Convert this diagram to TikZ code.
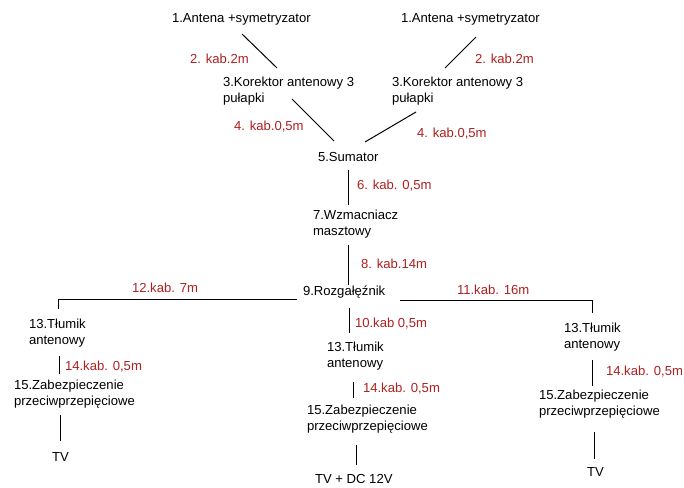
\documentclass[tikz,border=0pt]{standalone}
\usepackage{fontspec}
\setmainfont{Liberation Sans}
\definecolor{cablered}{HTML}{B02020}
\tikzset{
  item/.style={anchor=west,inner sep=0pt,outer sep=0pt,align=left,text=black,yshift=-1.5pt,font=\fontsize{13.1}{16}\selectfont},
  cable/.style={item,text=cablered},
  wire/.style={draw=black,line width=1pt,line cap=butt,line join=miter}
}
\newcommand{\off}[3]{([shift={(#1,{#2-1.5})}]#3.west)}
\begin{document}
\begin{tikzpicture}[x=1pt,y=-1pt]
\path[fill=white,use as bounding box] (0,0) rectangle (684,487);
% components
\node[item] (ant1) at (172,18) {1.Antena +symetryzator};
\node[item] (ant2) at (401,18) {1.Antena +symetryzator};
\node[item] (kor1) at (223,90) {3.Korektor antenowy 3\\pułapki};
\node[item] (kor2) at (392,90) {3.Korektor antenowy 3\\pułapki};
\node[item] (sum) at (318,155) {5.Sumator};
\node[item] (wzm) at (313,222.5) {7.Wzmacniacz\\masztowy};
\node[item] (roz) at (303,291) {9.Rozgałęźnik};
\node[item] (tl) at (29,331.5) {13.Tłumik\\antenowy};
\node[item] (tc) at (327,355) {13.Tłumik\\antenowy};
\node[item] (tr) at (564,335.5) {13.Tłumik\\antenowy};
\node[item] (zl) at (14,393) {15.Zabezpieczenie\\przeciwprzepięciowe};
\node[item] (zc) at (307,417.5) {15.Zabezpieczenie\\przeciwprzepięciowe};
\node[item] (zr) at (539,402.5) {15.Zabezpieczenie\\przeciwprzepięciowe};
\node[item] (tvl) at (52,455) {TV};
\node[item] (tvc) at (315,477) {TV + DC 12V};
\node[item] (tvr) at (587,470) {TV};
% cable labels
\node[cable] (c2a) at (190,57) {2. kab.2m};
\node[cable] (c2b) at (475,57) {2. kab.2m};
\node[cable] (c4a) at (234,125) {4. kab.0,5m};
\node[cable] (c4b) at (417,132) {4. kab.0,5m};
\node[cable] (c6) at (357,184) {6. kab. 0,5m};
\node[cable] (c8) at (361,262) {8. kab.14m};
\node[cable] (c12) at (132,286) {12.kab. 7m};
\node[cable] (c11) at (457,288) {11.kab. 16m};
\node[cable] (c10) at (355,322) {10.kab 0,5m};
\node[cable] (c14a) at (65,365) {14.kab. 0,5m};
\node[cable] (c14b) at (363,387) {14.kab. 0,5m};
\node[cable] (c14c) at (606,370) {14.kab. 0,5m};
% connectors
\draw[wire] \off{70}{16}{ant1} -- \off{54}{-22}{kor1};
\draw[wire] \off{75}{19}{ant2} -- \off{53}{-22}{kor2};
\draw[wire] \off{69}{9}{kor1} -- \off{16}{-14}{sum};
\draw[wire] \off{24}{22}{kor2} -- \off{47}{-13}{sum};
\draw[wire] \off{30}{15}{sum} -- \off{35}{-17.5}{wzm};
\draw[wire] \off{35}{22.5}{wzm} -- \off{45}{-6}{roz};
\draw[wire] \off{-6}{8.5}{roz} -| \off{29}{-22.5}{tl};
\draw[wire] \off{97}{9}{roz} -| \off{28}{-22.5}{tr};
\draw[wire] \off{46}{17}{roz} -- \off{22}{-22}{tc};
\draw[wire] \off{30}{24.5}{tl} -- \off{45}{-19}{zl};
\draw[wire] \off{46.5}{22}{zl} -- \off{8.5}{-14}{tvl};
\draw[wire] \off{26}{27}{tc} -- \off{46}{-19.5}{zc};
\draw[wire] \off{49}{27.5}{zc} -- \off{41}{-12}{tvc};
\draw[wire] \off{28}{24.5}{tr} -- \off{53}{-16.5}{zr};
\draw[wire] \off{55}{29.5}{zr} -- \off{7}{-11}{tvr};
\end{tikzpicture}
\end{document}
